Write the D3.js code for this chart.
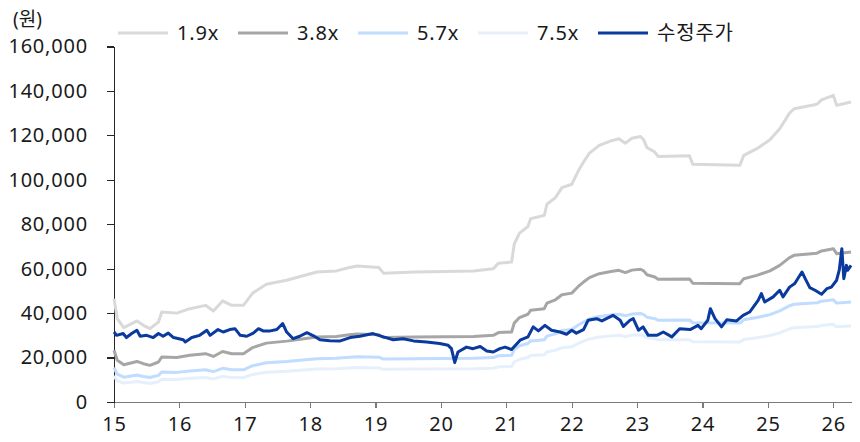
<!DOCTYPE html>
<html>
<head>
<meta charset="utf-8">
<script src="https://cdn.jsdelivr.net/npm/d3@7"></script>
<style>
    body { margin: 0; background: #fff; }
    svg text { font-family: "Noto Sans", "Noto Sans CJK KR", sans-serif; fill: #1a1a1a; }
    .axis path, .axis line { shape-rendering: crispEdges; }
</style>
</head>
<body>
<div id="chart"></div>
<script>
// years as decimals (15 = 2015)
const yearTicks = [15, 16, 17, 18, 19, 20, 21, 22, 23, 24, 25, 26]
const valueTicks = [0, 20000, 40000, 60000, 80000, 100000, 120000, 140000, 160000]

const bandDates = [15.0, 15.05, 15.15, 15.35, 15.45, 15.55, 15.68, 15.73, 15.96, 16.16,
    16.4, 16.52, 16.66, 16.8, 16.98, 17.12, 17.33, 17.64, 17.85, 18.1,
    18.4, 18.6, 18.72, 19.05, 19.12, 19.6, 20.5, 20.8, 20.88, 21.08,
    21.12, 21.2, 21.33, 21.37, 21.58, 21.62, 21.75, 21.85, 22.0, 22.1,
    22.18, 22.27, 22.42, 22.6, 22.72, 22.82, 22.92, 23.05, 23.1, 23.15,
    23.27, 23.32, 23.8, 23.85, 24.57, 24.63, 24.83, 25.03, 25.18, 25.33,
    25.4, 25.75, 25.82, 26.0, 26.05, 26.27]

const band19 = [46500, 37500, 33500, 36500, 34500, 33000, 36000, 40500, 40000, 42000,
    43500, 41000, 45500, 43500, 43500, 49000, 53000, 54800, 56500, 58500,
    59000, 60500, 61200, 60500, 58000, 58500, 59000, 60000, 62500, 63000,
    71000, 76000, 79000, 82500, 84000, 89000, 92000, 96500, 98000, 104000,
    108000, 112000, 115500, 117500, 118500, 116500, 118700, 119500, 118000, 114500,
    112500, 110500, 110800, 107000, 106500, 111000, 114000, 118000, 123000, 130000,
    132000, 134000, 136000, 138000, 133500, 135000]

const band38 = [23250, 18750, 16750, 18250, 17250, 16500, 18000, 20250, 20000, 21000,
    21750, 20500, 22750, 21750, 21750, 24500, 26500, 27400, 28250, 29250,
    29500, 30250, 30600, 30250, 29000, 29250, 29500, 30000, 31250, 31500,
    35500, 38000, 39500, 41250, 42000, 44500, 46000, 48250, 49000, 52000,
    54000, 56000, 57750, 58750, 59250, 58250, 59350, 59750, 59000, 57250,
    56250, 55250, 55400, 53500, 53250, 55500, 57000, 59000, 61500, 65000,
    66000, 67000, 68000, 69000, 66750, 67500]

const band57 = [15500, 12500, 11170, 12170, 11500, 11000, 12000, 13500, 13330, 14000,
    14500, 13670, 15170, 14500, 14500, 16330, 17670, 18270, 18830, 19500,
    19670, 20170, 20400, 20170, 19330, 19500, 19670, 20000, 20830, 21000,
    23670, 25330, 26330, 27500, 28000, 29670, 30670, 32170, 32670, 34670,
    36000, 37330, 38500, 39170, 39500, 38830, 39570, 39830, 39330, 38170,
    37500, 36830, 36930, 35670, 35500, 37000, 38000, 39330, 41000, 43330,
    44000, 44670, 45330, 46000, 44500, 45000]

const band75 = [11780, 9500, 8490, 9250, 8740, 8360, 9120, 10260, 10130, 10640,
    11020, 10390, 11530, 11020, 11020, 12410, 13420, 13880, 14310, 14820,
    14940, 15320, 15500, 15320, 14690, 14820, 14940, 15200, 15830, 15960,
    17980, 19250, 20010, 20900, 21280, 22540, 23300, 24440, 24820, 26340,
    27360, 28370, 29260, 29760, 30020, 29510, 30070, 30270, 29890, 29000,
    28500, 27990, 28070, 27100, 26980, 28120, 28880, 29890, 31160, 32930,
    33440, 33940, 34450, 34960, 33820, 34200]

const priceDates = [15.0, 15.04, 15.14, 15.19, 15.27, 15.35, 15.4, 15.5, 15.6, 15.68,
    15.75, 15.83, 15.91, 16.06, 16.09, 16.19, 16.31, 16.42, 16.47, 16.59,
    16.67, 16.77, 16.85, 16.93, 17.03, 17.13, 17.21, 17.28, 17.39, 17.49,
    17.58, 17.64, 17.74, 17.84, 17.95, 18.05, 18.15, 18.3, 18.46, 18.61,
    18.76, 18.96, 19.12, 19.27, 19.42, 19.58, 19.78, 19.98, 20.11, 20.16,
    20.21, 20.26, 20.39, 20.49, 20.6, 20.7, 20.8, 20.9, 20.98, 21.08,
    21.21, 21.33, 21.41, 21.49, 21.59, 21.69, 21.82, 21.92, 22.0, 22.07,
    22.18, 22.25, 22.38, 22.46, 22.63, 22.74, 22.79, 22.89, 22.94, 23.02,
    23.09, 23.17, 23.3, 23.4, 23.53, 23.65, 23.81, 23.93, 23.98, 24.08,
    24.12, 24.19, 24.29, 24.37, 24.52, 24.62, 24.72, 24.85, 24.9, 24.95,
    25.08, 25.18, 25.23, 25.33, 25.41, 25.52, 25.57, 25.64, 25.72, 25.82,
    25.9, 25.97, 26.05, 26.09, 26.13, 26.16, 26.2, 26.22, 26.27]

const price = [31500, 30000, 30800, 29000, 30800, 32300, 29600, 30000, 29000, 30800,
    29600, 31000, 29000, 28000, 27000, 29000, 30000, 32300, 30000, 32600,
    31500, 32600, 33000, 30000, 29600, 31000, 33000, 32000, 32000, 32600,
    35300, 31500, 28500, 29600, 31200, 29800, 28000, 27600, 27500, 29000,
    29600, 30800, 29300, 28000, 28500, 27500, 27000, 26300, 25500, 24000,
    17800, 22500, 24700, 24000, 25000, 23000, 22500, 24000, 24700, 23600,
    27800, 29300, 33800, 32000, 34500, 32300, 31500, 30500, 32300, 31000,
    32600, 36800, 37500, 36500, 39000, 36800, 34000, 36800, 37500, 32300,
    33800, 30000, 30000, 31500, 29300, 33000, 32600, 34500, 33000, 36800,
    42000, 37500, 33800, 37000, 36500, 39000, 40500, 45700, 48800, 45000,
    47300, 50300, 47300, 51700, 53300, 58500, 55500, 51500, 50300, 48500,
    51000, 51700, 54800, 59300, 69000, 55500, 61500, 59300, 61500]

const seriesNames = ['1.9x', '3.8x', '5.7x', '7.5x', '수정주가']
const seriesColors = ['#d9d9d9', '#a6a6a6', '#c0dcff', '#e6f0fd', '#0a3a9e']


function drawChart() {
    let width = 860
    let height = 442
    let margin = { top: 46.5, right: 9, bottom: 40, left: 114 }

    let svg = d3.select('#chart')
        .append('svg')
        .attr('width', width)
        .attr('height', height)

    let xScale = d3.scaleLinear()
        .domain([15, 26.27])
        .range([margin.left, width - margin.right])

    let yScale = d3.scaleLinear()
        .domain([0, 160000])
        .range([height - margin.bottom, margin.top])

    let xAxis = d3.axisBottom(xScale)
        .tickValues(yearTicks)
        .tickFormat(d3.format('d'))
        .tickSize(6)
        .tickSizeOuter(0)
        .tickPadding(9)

    let yAxis = d3.axisLeft(yScale)
        .tickValues(valueTicks)
        .tickFormat(d3.format(','))
        .tickSize(7)
        .tickSizeOuter(0)
        .tickPadding(19)

    let xAxisEl = svg.append('g')
        .attr('class', 'axis')
        .attr('transform', `translate(0,${height - margin.bottom})`)
        .call(xAxis)
    xAxisEl.select('.domain').attr('stroke', '#7a7a7a').attr('stroke-width', 1.5)
    xAxisEl.selectAll('.tick line').attr('stroke', '#7a7a7a').attr('stroke-width', 1.2)

    let yAxisEl = svg.append('g')
        .attr('class', 'axis')
        .attr('transform', `translate(${margin.left},0)`)
        .call(yAxis)
    yAxisEl.select('.domain').attr('stroke', '#262626').attr('stroke-width', 1.2)
    yAxisEl.selectAll('.tick line').attr('stroke', '#262626').attr('stroke-width', 1.2)

    svg.selectAll('.axis text')
        .style('font-size', '20px')
        .style('letter-spacing', '0.8px')
        .attr('fill', '#1a1a1a')

    // unit label
    svg.append('text')
        .attr('x', 13)
        .attr('y', 26)
        .style('font-size', '19px')
        .text('(원)')

    let bands = [band19, band38, band57, band75]
    let line = d3.line()
        .x(d => xScale(d[0]))
        .y(d => yScale(d[1]))

    // draw lightest band last among bands so ordering matches the picture
    let drawOrder = [3, 2, 1, 0]
    for (const i of drawOrder) {
        let data = bandDates.map((t, j) => [t, bands[i][j]])
        svg.append('path')
            .datum(data)
            .attr('d', line)
            .attr('fill', 'none')
            .attr('stroke', seriesColors[i])
            .attr('stroke-width', 3)
            .attr('stroke-linejoin', 'round')
    }

    let priceData = priceDates.map((t, j) => [t, price[j]])
    svg.append('path')
        .datum(priceData)
        .attr('d', line)
        .attr('fill', 'none')
        .attr('stroke', seriesColors[4])
        .attr('stroke-width', 3)
        .attr('stroke-linejoin', 'round')

    drawLegend(svg)
}


function drawLegend(svg) {
    let legendX = [118, 238, 358, 478, 598]
    let legendY = 33

    let items = svg.append('g')
        .selectAll('g')
        .data(seriesNames)
        .join('g')
        .attr('transform', (d, i) => `translate(${legendX[i]},${legendY})`)

    items.append('line')
        .attr('x1', 0)
        .attr('x2', 50)
        .attr('stroke', (d, i) => seriesColors[i])
        .attr('stroke-width', 3)

    items.append('text')
        .attr('x', 59)
        .attr('dy', '0.35em')
        .style('font-size', '20px')
        .style('letter-spacing', '0.8px')
        .text(d => d)
}

drawChart()
</script>
</body>
</html>
